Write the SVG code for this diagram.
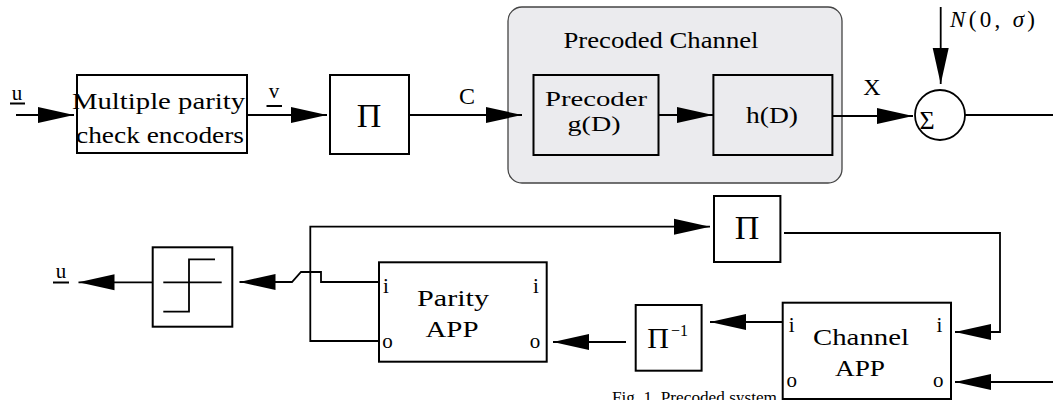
<svg xmlns="http://www.w3.org/2000/svg" width="1053" height="400" viewBox="0 0 1053 400">
<style>
.box{fill:#fff;stroke:#000;stroke-width:2}
.ibox{fill:none;stroke:#000;stroke-width:2}
.ln{fill:none;stroke:#000;stroke-width:1.8}
.arr{fill:none;stroke:#000;stroke-width:1.8;marker-end:url(#ah)}
.t{font-family:"Liberation Serif","Times New Roman",serif;font-size:24px;fill:#000;text-anchor:middle}
.s{font-family:"Liberation Serif","Times New Roman",serif;font-size:21px;fill:#000;text-anchor:middle}
.pi{font-family:"Liberation Serif","Times New Roman",serif;font-size:34px;fill:#000;text-anchor:middle}
</style>
<defs>
<marker id="ah" markerUnits="userSpaceOnUse" markerWidth="37" markerHeight="18" refX="36" refY="9" orient="auto">
<path d="M0,1 L36,9 L0,17 Z" fill="#000"/>
</marker>
</defs>

<g id="precoded-channel">
<rect x="508" y="7" width="334" height="176" rx="14" fill="#ebebee" stroke="#444" stroke-width="1.3"/>
<text class="t" x="661" y="48" textLength="195" lengthAdjust="spacingAndGlyphs">Precoded Channel</text>
</g>

<g id="caption">
<text class="s" x="612" y="403" style="font-size:16px;text-anchor:start" textLength="165" lengthAdjust="spacingAndGlyphs">Fig. 1.   Precoded system</text>
</g>

<g id="connectors">
<path class="arr" d="M16,115 H74"/>
<path class="arr" d="M248,115 H327"/>
<path class="arr" d="M409,115 H522"/>
<path class="arr" d="M659,115 H713"/>
<path class="arr" d="M832,116 H913"/>
<path class="arr" d="M940.7,7 V84"/>
<path class="ln" d="M965,115 H1053"/>
<path class="arr" d="M784,233 H1000 V332 H955"/>
<path class="arr" d="M1053,382 H955"/>
<path class="arr" d="M783,322 H710"/>
<path class="arr" d="M626,342 H553"/>
<path class="arr" d="M379,341 H310.3 V226.7 H710"/>
<path class="arr" d="M379,282 H321 V272 H301 L292,282 H239.5"/>
<path class="arr" d="M153,282.3 H78.5"/>
</g>

<g id="labels">
<text class="s" x="17" y="100">u</text>
<line x1="10" y1="103.5" x2="25" y2="103.5" stroke="#000" stroke-width="2"/>
<text class="s" x="274" y="98">v</text>
<line x1="266.5" y1="106" x2="282" y2="106" stroke="#000" stroke-width="2"/>
<text class="t" x="467" y="104">C</text>
<text class="t" x="872" y="95">X</text>
<text class="s" x="950" y="27" style="font-size:23px;text-anchor:start" textLength="85" lengthAdjust="spacing"><tspan font-style="italic">N</tspan>(0, <tspan font-style="italic">σ</tspan>)</text>
<text class="s" x="61" y="278">u</text>
<line x1="53" y1="282.5" x2="69" y2="282.5" stroke="#000" stroke-width="2"/>
</g>

<g id="encoders">
<rect class="box" x="77" y="75" width="170" height="78"/>
<text class="t" x="158.5" y="109.3" textLength="173" lengthAdjust="spacingAndGlyphs">Multiple parity</text>
<text class="t" x="160" y="142.7" textLength="168" lengthAdjust="spacingAndGlyphs">check encoders</text>
</g>

<g id="interleaver">
<rect class="box" x="330" y="75" width="79" height="79"/>
<text class="pi" x="369" y="127">Π</text>
</g>

<g id="precoder">
<rect class="ibox" x="533.5" y="75" width="125" height="80"/>
<text class="t" x="596" y="106" style="font-size:22px" textLength="102" lengthAdjust="spacingAndGlyphs">Precoder</text>
<text class="t" x="594" y="131" style="font-size:22px" textLength="53" lengthAdjust="spacingAndGlyphs">g(D)</text>
</g>

<g id="hD">
<rect class="ibox" x="713.4" y="75" width="119" height="80"/>
<text class="t" x="772" y="123" textLength="52" lengthAdjust="spacingAndGlyphs">h(D)</text>
</g>

<g id="sum">
<circle cx="940" cy="115" r="25" fill="#fff" stroke="#000" stroke-width="1.8"/>
<text class="s" x="927" y="129" style="font-size:26px">Σ</text>
</g>

<g id="interleaver2">
<rect class="box" x="714" y="196" width="66.4" height="66"/>
<text class="pi" x="747" y="239">Π</text>
</g>

<g id="threshold">
<rect class="box" x="152.7" y="247.3" width="79.6" height="79.4"/>
<path class="ln" d="M163.3,282.3 H221.7 M163.3,311.7 H189 V259.3 H215"/>
</g>

<g id="parity-app">
<rect class="box" x="379" y="262.3" width="167.7" height="99.4"/>
<text class="t" x="453" y="306" textLength="72" lengthAdjust="spacingAndGlyphs">Parity</text>
<text class="t" x="452" y="336.7" textLength="53" lengthAdjust="spacingAndGlyphs">APP</text>
<text class="s" x="386" y="293">i</text>
<text class="s" x="536" y="293">i</text>
<text class="s" x="387.5" y="348">o</text>
<text class="s" x="535" y="348">o</text>
</g>

<g id="deinterleaver">
<rect class="box" x="635.7" y="305" width="65.9" height="65.7"/>
<text class="t" x="658" y="348" style="font-size:30px">Π</text>
<text class="t" x="671" y="336" style="font-size:16px;text-anchor:start">−1</text>
</g>

<g id="channel-app">
<rect class="box" x="782.7" y="302.7" width="168.3" height="96.3"/>
<text class="t" x="861" y="345" textLength="96" lengthAdjust="spacingAndGlyphs">Channel</text>
<text class="t" x="860" y="376" textLength="50" lengthAdjust="spacingAndGlyphs">APP</text>
<text class="s" x="791.7" y="331.7">i</text>
<text class="s" x="939.3" y="331.7">i</text>
<text class="s" x="791.7" y="387.3">o</text>
<text class="s" x="938.3" y="387.3">o</text>
</g>
</svg>
